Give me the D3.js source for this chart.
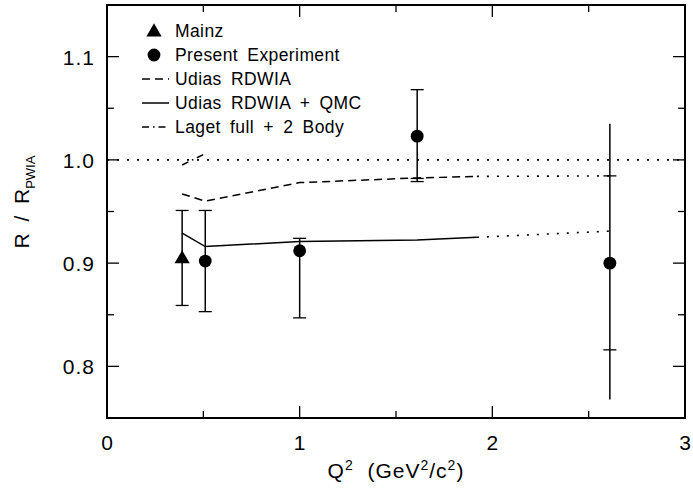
<!DOCTYPE html>
<html>
<head>
<meta charset="utf-8">
<script src="https://cdn.jsdelivr.net/npm/d3@7"></script>
<style>
  body { margin: 0; background: #fff; }
  text { font-family: "Liberation Sans", Arial, sans-serif; fill: #000; }
</style>
</head>
<body>
<div id="graph"></div>
<script>
// Mainz point
const mainzQ2 = [0.39];
const mainzR = [0.905];
const mainzLo = [0.859];
const mainzHi = [0.951];

// present experiment
const expQ2 = [0.51, 1.0, 1.61, 2.61];
const expR = [0.902, 0.912, 1.023, 0.900];
const expLo = [0.853, 0.847, 0.979, 0.768];
const expHi = [0.951, 0.924, 1.068, 1.035];
const expCaps = [[0.853, 0.951], [0.847, 0.924], [0.979, 0.982, 1.068], [0.816, 0.9845]];

// calculations
const udiasQ2 = [0.39, 0.51, 1.0, 1.61, 1.92];
const udiasR = [0.967, 0.960, 0.978, 0.9825, 0.984];
const udiasExtQ2 = [1.92, 2.61];
const udiasExtR = [0.984, 0.9845];
const qmcQ2 = [0.39, 0.51, 1.0, 1.61, 1.92];
const qmcR = [0.929, 0.916, 0.921, 0.9225, 0.925];
const qmcExtQ2 = [1.92, 2.61];
const qmcExtR = [0.925, 0.931];
const lagetQ2 = [0.39, 0.51];
const lagetR = [0.995, 1.006];

const xMajor = [0, 1, 2, 3];
const xMinor = [0.5, 1.5, 2.5];
const yMajor = [0.8, 0.9, 1.0, 1.1];
const yMinor = [0.75, 0.85, 0.95, 1.05, 1.15];

const legendLabels = ["Mainz", "Present Experiment", "Udias RDWIA", "Udias RDWIA + QMC", "Laget full + 2 Body"];

var width = 693, height = 488;
var margin = {top: 5, right: 8, bottom: 70, left: 107};

var svg = d3.select("#graph")
    .append("svg")
    .attr("width", width)
    .attr("height", height);

var x = d3.scaleLinear()
    .domain([0, 3])
    .range([margin.left, width - margin.right]);

var y = d3.scaleLinear()
    .domain([0.75, 1.15])
    .range([height - margin.bottom, margin.top]);

var x0 = x.range()[0], x1 = x.range()[1], y0 = y.range()[0], y1 = y.range()[1];

// ticks on all four sides, pointing inward
function ticks(vals, len) {
    vals.forEach(function (v) {
        svg.append("line").attr("x1", x(v)).attr("x2", x(v)).attr("y1", y0).attr("y2", y0 - len)
            .attr("stroke", "#000").attr("stroke-width", 1.3);
        svg.append("line").attr("x1", x(v)).attr("x2", x(v)).attr("y1", y1).attr("y2", y1 + len)
            .attr("stroke", "#000").attr("stroke-width", 1.3);
    });
}
function yticks(vals, len) {
    vals.forEach(function (v) {
        svg.append("line").attr("x1", x0).attr("x2", x0 + len).attr("y1", y(v)).attr("y2", y(v))
            .attr("stroke", "#000").attr("stroke-width", 1.3);
        svg.append("line").attr("x1", x1).attr("x2", x1 - len).attr("y1", y(v)).attr("y2", y(v))
            .attr("stroke", "#000").attr("stroke-width", 1.3);
    });
}
ticks(xMajor, 12);
ticks(xMinor, 7);
yticks(yMajor, 12);
yticks(yMinor, 7);

svg.append("rect")
    .attr("x", x0).attr("y", y1)
    .attr("width", x1 - x0).attr("height", y0 - y1)
    .attr("fill", "none").attr("stroke", "#000").attr("stroke-width", 2);

svg.selectAll(".xlab")
    .data(xMajor)
    .enter().append("text")
    .attr("x", d => x(d))
    .attr("y", y0 + 32)
    .attr("text-anchor", "middle")
    .style("font-size", "21px")
    .text(d => d3.format("d")(d));

svg.selectAll(".ylab")
    .data(yMajor)
    .enter().append("text")
    .attr("x", x0 - 12)
    .attr("y", d => y(d) + 8)
    .attr("text-anchor", "end")
    .style("font-size", "21px")
    .style("letter-spacing", "1px")
    .text(d => d3.format(".1f")(d));

// axis titles
var xt = svg.append("text")
    .attr("x", x(1.5))
    .attr("y", 478)
    .attr("text-anchor", "middle")
    .attr("xml:space", "preserve")
    .style("font-size", "21px")
    .style("letter-spacing", "1px");
xt.append("tspan").text("Q");
xt.append("tspan").attr("dy", -8).style("font-size", "14px").text("2");
xt.append("tspan").attr("dy", 8).text("  (GeV");
xt.append("tspan").attr("dy", -8).style("font-size", "14px").text("2");
xt.append("tspan").attr("dy", 8).text("/c");
xt.append("tspan").attr("dy", -8).style("font-size", "14px").text("2");
xt.append("tspan").attr("dy", 8).text(")");

var yt = svg.append("text")
    .attr("transform", "translate(29,202) rotate(-90)")
    .attr("text-anchor", "middle")
    .attr("xml:space", "preserve")
    .style("font-size", "21px");
yt.append("tspan").text("R  /  R");
yt.append("tspan").attr("dy", 6).style("font-size", "13px").text("PWIA");

var line = d3.line()
    .x(d => x(d[0]))
    .y(d => y(d[1]));

// unity line
svg.append("path")
    .datum([[0, 1], [3, 1]])
    .attr("d", line)
    .attr("fill", "none").attr("stroke", "#000").attr("stroke-width", 1.6)
    .attr("stroke-dasharray", "2,8");

svg.append("path")
    .datum(d3.zip(udiasQ2, udiasR))
    .attr("d", line)
    .attr("fill", "none").attr("stroke", "#000").attr("stroke-width", 1.5)
    .attr("stroke-dasharray", "8,5");
svg.append("path")
    .datum(d3.zip(udiasExtQ2, udiasExtR))
    .attr("d", line)
    .attr("fill", "none").attr("stroke", "#000").attr("stroke-width", 1.6)
    .attr("stroke-dasharray", "2,8");

svg.append("path")
    .datum(d3.zip(qmcQ2, qmcR))
    .attr("d", line)
    .attr("fill", "none").attr("stroke", "#000").attr("stroke-width", 1.5);
svg.append("path")
    .datum(d3.zip(qmcExtQ2, qmcExtR))
    .attr("d", line)
    .attr("fill", "none").attr("stroke", "#000").attr("stroke-width", 1.6)
    .attr("stroke-dasharray", "2,8");

svg.append("path")
    .datum(d3.zip(lagetQ2, lagetR))
    .attr("d", line)
    .attr("fill", "none").attr("stroke", "#000").attr("stroke-width", 1.5)
    .attr("stroke-dasharray", "7,4,1.5,4");

// error bars
function errbar(q, lo, hi, caps) {
    svg.append("line")
        .attr("x1", x(q)).attr("x2", x(q))
        .attr("y1", y(lo)).attr("y2", y(hi))
        .attr("stroke", "#000").attr("stroke-width", 1.5);
    caps.forEach(function (c) {
        svg.append("line")
            .attr("x1", x(q) - 6.5).attr("x2", x(q) + 6.5)
            .attr("y1", y(c)).attr("y2", y(c))
            .attr("stroke", "#000").attr("stroke-width", 1.3);
    });
}
mainzQ2.forEach((q, i) => errbar(q, mainzLo[i], mainzHi[i], [mainzLo[i], mainzHi[i]]));
expQ2.forEach((q, i) => errbar(q, expLo[i], expHi[i], expCaps[i]));

var tri = d3.symbol().type(d3.symbolTriangle).size(100);

svg.selectAll(".mainz")
    .data(d3.zip(mainzQ2, mainzR))
    .enter().append("path")
    .attr("d", tri)
    .attr("transform", d => "translate(" + x(d[0]) + "," + (y(d[1]) + 1) + ")")
    .attr("fill", "#000");

svg.selectAll(".exp")
    .data(d3.zip(expQ2, expR))
    .enter().append("circle")
    .attr("cx", d => x(d[0]))
    .attr("cy", d => y(d[1]))
    .attr("r", 6.4)
    .attr("fill", "#000");

// legend
var lx = 142, lw = 27, ltx = 175, ly = 31, lstep = 24;
svg.append("path").attr("d", tri)
    .attr("transform", "translate(154," + (ly + 1) + ")").attr("fill", "#000");
svg.append("circle").attr("cx", 154).attr("cy", ly + lstep).attr("r", 6.4).attr("fill", "#000");
var legDash = ["8,5", null, "7,4,1.5,4"];
legDash.forEach(function (d, i) {
    var p = svg.append("line")
        .attr("x1", lx).attr("x2", lx + lw)
        .attr("y1", ly + lstep * (i + 2)).attr("y2", ly + lstep * (i + 2))
        .attr("stroke", "#000").attr("stroke-width", 1.5);
    if (d) p.attr("stroke-dasharray", d);
});
svg.selectAll(".leg")
    .data(legendLabels)
    .enter().append("text")
    .attr("x", ltx)
    .attr("y", (d, i) => ly + lstep * i + 6)
    .style("font-size", "17.5px")
    .style("letter-spacing", "0.4px")
    .style("word-spacing", "4px")
    .text(d => d);
</script>
</body>
</html>
